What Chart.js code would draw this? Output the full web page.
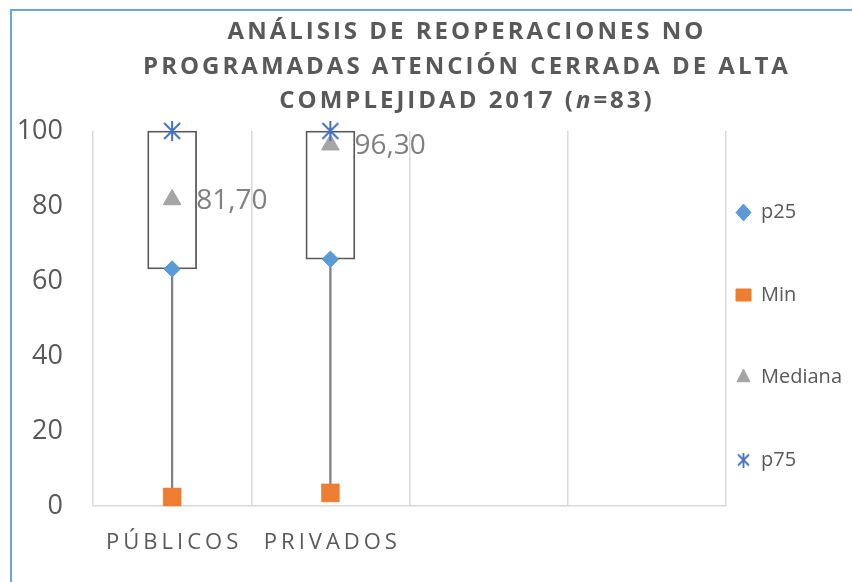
<!DOCTYPE html>
<html>
<head>
<meta charset="utf-8">
<script src="https://cdn.jsdelivr.net/npm/chart.js@4.4.1/dist/chart.umd.min.js"></script>
<style>
  html, body { margin: 0; padding: 0; background: #ffffff; }
  #wrap { position: relative; width: 852px; height: 582px; overflow: hidden; }
  #frame { position: absolute; left: 10px; top: 9px; width: 860px; height: 600px;
           border-top: 2px solid #6aa6dd; border-left: 2px solid #6aa6dd; }
  #c { position: absolute; left: 0; top: 0; }
</style>
</head>
<body>
<div id="wrap">
  <div id="frame"></div>
  <canvas id="c" width="852" height="582"></canvas>
</div>
<script>
// ---- data ----
const categories = ['PÚBLICOS', 'PRIVADOS', '', ''];
const p25 = [63.2, 65.8, null, null];
const minVals = [2.4, 3.5, null, null];
const mediana = [81.7, 96.3, null, null];
const p75 = [100, 100, null, null];
const yTicks = [0, 20, 40, 60, 80, 100];
const seriesNames = ['p25', 'Min', 'Mediana', 'p75'];
const titleLines = ['ANÁLISIS DE REOPERACIONES NO', 'PROGRAMADAS ATENCIÓN CERRADA DE ALTA'];
const titleLast = [['COMPLEJIDAD 2017 (', false], ['n', true], ['=83)', false]];

// derived floating bars built from the series
const boxes = p25.map((v, i) => (v == null ? null : [v, p75[i]]));
const whiskers = minVals.map((v, i) => (v == null ? null : [v, p25[i]]));

function asterisk(size, color, lw) {
  const c = document.createElement('canvas');
  c.width = size; c.height = size;
  const g = c.getContext('2d');
  g.strokeStyle = color; g.lineWidth = lw; g.lineCap = 'butt';
  const m = 1, s = size - 1, h = size / 2;
  g.beginPath();
  g.moveTo(h, m - 1); g.lineTo(h, s + 1);
  g.moveTo(m + 1, m + 1); g.lineTo(s - 1, s - 1);
  g.moveTo(s - 1, m + 1); g.lineTo(m + 1, s - 1);
  g.stroke();
  return c;
}
const starBig = asterisk(20, '#4472c4', 2);
const starSmall = asterisk(15, '#4472c4', 1.8);

Chart.defaults.font.family = '"Open Sans", sans-serif';
Chart.defaults.color = '#595959';

const titlePlugin = {
  id: 'titleDraw',
  afterDraw(chart) {
    const ctx = chart.ctx;
    const cx = 467;
    ctx.save();
    ctx.fillStyle = '#595959';
    ctx.textBaseline = 'middle';
    ctx.letterSpacing = '3px';
    const bold = 'bold 24px "Open Sans"';
    const ital = 'italic bold 24px "Open Sans"';
    const ys = [32, 67, 101];
    ctx.font = bold;
    ctx.textAlign = 'left';
    titleLines.forEach((t, i) => {
      const w = ctx.measureText(t).width;
      ctx.fillText(t, cx - w / 2, ys[i]);
    });
    let total = 0;
    titleLast.forEach(([t, it]) => { ctx.font = it ? ital : bold; total += ctx.measureText(t).width; });
    let x = cx - total / 2;
    titleLast.forEach(([t, it]) => {
      ctx.font = it ? ital : bold;
      ctx.fillText(t, x, ys[2]);
      x += ctx.measureText(t).width;
    });
    ctx.restore();
  }
};

const xLabelPlugin = {
  id: 'xLabels',
  afterDraw(chart) {
    const ctx = chart.ctx;
    const xs = chart.scales.x;
    ctx.save();
    ctx.fillStyle = '#595959';
    ctx.font = '22px "Open Sans"';
    ctx.letterSpacing = '4px';
    ctx.textBaseline = 'middle';
    ctx.textAlign = 'left';
    categories.forEach((lab, i) => {
      if (!lab) return;
      const w = ctx.measureText(lab).width - 4;
      ctx.fillText(lab, xs.getPixelForValue(i) - w / 2, 543);
    });
    ctx.restore();
  }
};

const medianLabelPlugin = {
  id: 'medLabels',
  afterDatasetsDraw(chart) {
    const ctx = chart.ctx;
    const idx = chart.data.datasets.findIndex(d => d.label === 'Mediana');
    const meta = chart.getDatasetMeta(idx);
    ctx.save();
    ctx.fillStyle = '#808080';
    ctx.font = '28px "Open Sans"';
    ctx.textBaseline = 'middle';
    ctx.textAlign = 'left';
    meta.data.forEach((pt, i) => {
      const v = mediana[i];
      if (v == null) return;
      ctx.fillText(v.toFixed(2).replace('.', ','), pt.x + 24, pt.y + 1);
    });
    ctx.restore();
  }
};

const legendStyles = {
  p25: { pointStyle: 'rectRot', color: '#5b9bd5' },
  Min: { pointStyle: 'rect', color: '#ed7d31' },
  Mediana: { pointStyle: 'triangle', color: '#a5a5a5' },
  p75: { pointStyle: starSmall, color: '#4472c4' }
};

new Chart(document.getElementById('c'), {
  type: 'bar',
  data: {
    labels: categories,
    datasets: [
      { type: 'bar', label: 'box', data: boxes, backgroundColor: '#ffffff', borderColor: '#595959',
        borderWidth: 1.8, borderSkipped: false, barThickness: 49, grouped: false, order: 6 },
      { type: 'bar', label: 'whisker', data: whiskers, backgroundColor: '#808080', borderWidth: 0,
        barThickness: 1.6, grouped: false, order: 5 },
      { type: 'line', label: 'p25', data: p25, showLine: false, pointStyle: 'rectRot', pointRadius: 8.2,
        backgroundColor: '#5b9bd5', borderColor: '#5b9bd5', pointBorderWidth: 1, order: 3 },
      { type: 'line', label: 'Min', data: minVals, showLine: false, pointStyle: 'rect', pointRadius: 12.7,
        backgroundColor: '#ed7d31', borderColor: '#ed7d31', pointBorderWidth: 0.5, order: 2 },
      { type: 'line', label: 'Mediana', data: mediana, showLine: false, pointStyle: 'triangle', pointRadius: 10.2,
        backgroundColor: '#a5a5a5', borderColor: '#a5a5a5', pointBorderWidth: 1, order: 1 },
      { type: 'line', label: 'p75', data: p75, showLine: false, pointStyle: starBig, pointRadius: 10,
        backgroundColor: '#4472c4', borderColor: '#4472c4', order: 0 }
    ]
  },
  options: {
    responsive: false,
    animation: false,
    events: [],
    clip: false,
    layout: { padding: { top: 131, left: 0, right: 10, bottom: 49.5 } },
    scales: {
      x: {
        offset: true,
        grid: { display: true, offset: true, color: '#d9d9d9', lineWidth: 1.5, drawTicks: false },
        border: { display: true, color: '#d9d9d9', width: 1.5 },
        ticks: { display: false },
        afterFit(s) { s.height = 26.5; }
      },
      y: {
        min: 0, max: 100,
        afterBuildTicks(s) { s.ticks = yTicks.map(v => ({ value: v })); },
        grid: { display: false, drawTicks: false },
        border: { display: false },
        ticks: { padding: 30, font: { size: 27 }, color: '#595959' },
        afterFit(s) { s.width = 93; }
      }
    },
    plugins: {
      tooltip: { enabled: false },
      title: { display: false },
      legend: {
        display: true,
        position: 'right',
        align: 'end',
        maxWidth: 116,
        labels: {
          usePointStyle: true,
          boxHeight: 12,
          pointStyleWidth: 15,
          padding: 10,
          color: '#595959',
          font: { size: 20, lineHeight: '72.5px' },
          generateLabels() {
            return seriesNames.map((n, i) => ({
              text: [n],
              fillStyle: legendStyles[n].color,
              strokeStyle: legendStyles[n].color,
              lineWidth: 1,
              pointStyle: legendStyles[n].pointStyle,
              hidden: false,
              datasetIndex: i + 2,
              fontColor: '#595959'
            }));
          }
        }
      }
    }
  },
  plugins: [titlePlugin, xLabelPlugin, medianLabelPlugin]
});
</script>
</body>
</html>
